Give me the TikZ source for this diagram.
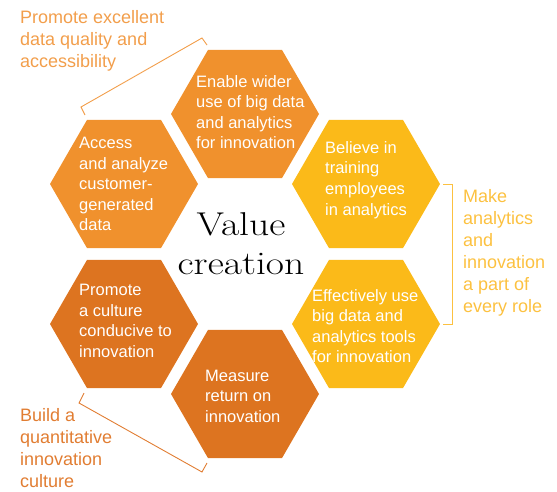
\documentclass[tikz,border=0pt]{standalone}
\usepackage{fontspec}
\usepackage{graphicx}
\setsansfont{Liberation Sans}
\usetikzlibrary{shapes.geometric}
\definecolor{hexorange}{RGB}{240, 145, 45}
\definecolor{hexyellow}{RGB}{251, 186, 25}
\definecolor{hexdark}{RGB}{221, 116, 32}
\definecolor{notelight}{RGB}{242, 158, 75}
\definecolor{noteyellow}{RGB}{252, 193, 64}
\definecolor{notedark}{RGB}{225, 125, 50}

\begin{document}
\begin{tikzpicture}[x=1pt, y=-1pt,
    hexcell/.style={regular polygon, regular polygon sides=6, minimum size=148pt, inner sep=0pt},
    hextext/.style={text=white, align=left, inner sep=0pt, anchor=west, font=\sffamily\fontsize{16.5}{20.6}\selectfont},
    notetext/.style={align=left, inner sep=0pt, anchor=north west, font=\sffamily\fontsize{18}{22}\selectfont},
    bracketline/.style={line width=0.9pt}]
    \useasboundingbox (0,0) rectangle (557,491);

    % Hexagons
    \node[hexcell, fill=hexorange] (enable) at (245,114) {};
    \node[hexcell, fill=hexorange] (access) at (124,184) {};
    \node[hexcell, fill=hexyellow] (believe) at (366,184) {};
    \node[hexcell, fill=hexyellow] (effective) at (366,324) {};
    \node[hexcell, fill=hexdark] (culture) at (124,324) {};
    \node[hexcell, fill=hexdark] (measure) at (245,394) {};

    % Hexagon texts
    \node[hextext] (enable-t) at (196,112) {Enable wider\\use of big data\\and analytics\\for innovation};
    \node[hextext] (access-t) at (79,184) {Access\\and analyze\\customer-\\generated\\data};
    \node[hextext] (believe-t) at (325,180) {Believe in\\training\\employees\\in analytics};
    \node[hextext] (effective-t) at (312,326) {Effectively use\\big data and\\analytics tools\\for innovation};
    \node[hextext] (culture-t) at (79,321) {Promote\\a culture\\conducive to\\innovation};
    \node[hextext] (measure-t) at (205,396) {Measure\\return on\\innovation};

    % Centre
    \node[font=\fontsize{33}{39}\selectfont, align=center, inner sep=0pt, anchor=north] (value) at (241,212)
        {\scalebox{1.2}[1]{Value}\\\scalebox{1.2}[1]{creation}};

    % Brackets
    \coordinate (quality-a) at (85,115);
    \coordinate (quality-b) at (81,107);
    \coordinate (quality-c) at (202,38);
    \coordinate (quality-d) at (207,45);
    \draw[bracketline, notelight] (quality-a) -- (quality-b) -- (quality-c) -- (quality-d);

    \coordinate (role-a) at (443,184);
    \coordinate (role-b) at (452,184);
    \coordinate (role-c) at (452,324);
    \coordinate (role-d) at (443,324);
    \draw[bracketline, noteyellow] (role-a) -- (role-b) -- (role-c) -- (role-d);

    \coordinate (quant-a) at (84,393);
    \coordinate (quant-b) at (79,403);
    \coordinate (quant-c) at (202,472);
    \coordinate (quant-d) at (207,463);
    \draw[bracketline, notedark] (quant-a) -- (quant-b) -- (quant-c) -- (quant-d);

    % Notes
    \node[notetext, text=notelight] (quality) at (20,10) {Promote excellent\\data quality and\\accessibility};
    \node[notetext, text=noteyellow] (role) at (463,189) {Make\\analytics\\and\\innovation\\a part of\\every role};
    \node[notetext, text=notedark] (quant) at (20,408) {Build a\\quantitative\\innovation\\culture};
\end{tikzpicture}
\end{document}
